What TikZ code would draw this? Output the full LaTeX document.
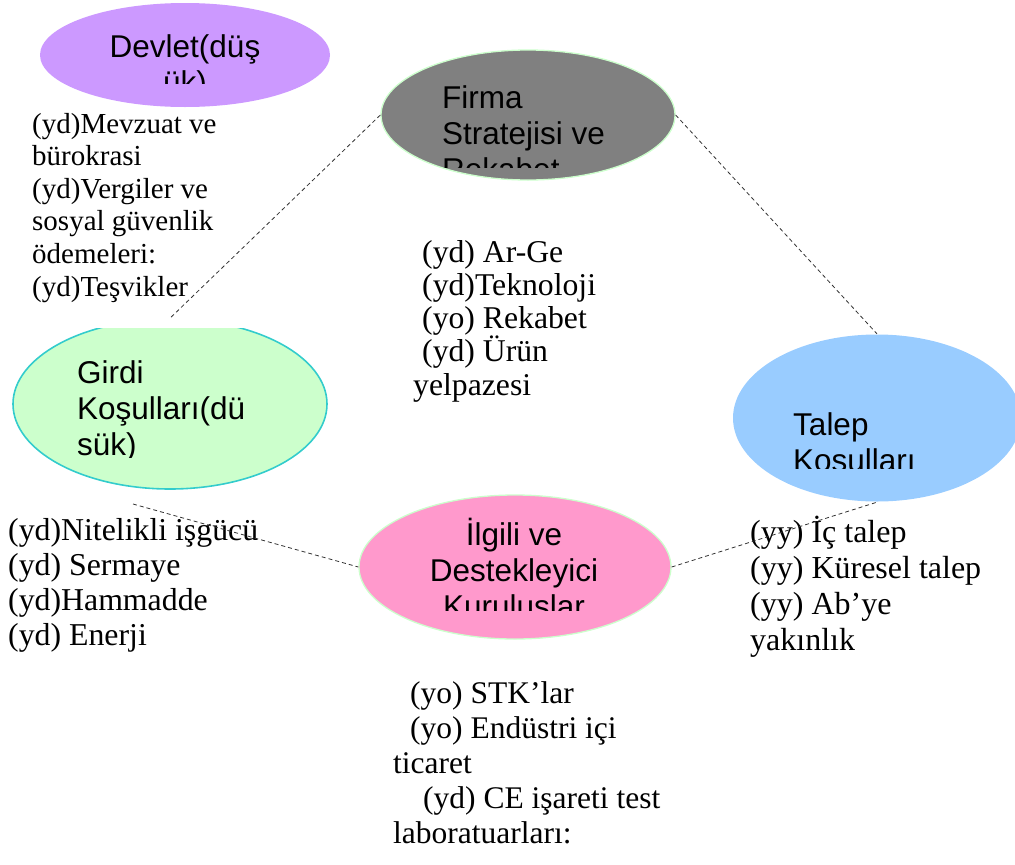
\documentclass[tikz,border=0pt]{standalone}
\usepackage{fontspec}
\setmainfont{Liberation Serif}
\newfontfamily\arialf{Liberation Sans}
\usetikzlibrary{shapes.geometric}
\definecolor{cDev}{HTML}{CC99FF}
\definecolor{cFirma}{HTML}{808080}
\definecolor{cGirdi}{HTML}{CCFFCC}
\definecolor{cTalep}{HTML}{99CCFF}
\definecolor{cIlgili}{HTML}{FF99CC}
\definecolor{cTeal}{HTML}{33CCCC}
\definecolor{cLine}{HTML}{333333}
\begin{document}
\begin{tikzpicture}[x=1pt,y=-1pt,
  bubble/.style={ellipse, inner sep=0pt, line width=1.3pt},
  etext/.style={inner sep=0pt, font=\arialf\fontsize{31.5}{36}\selectfont},
  ltext/.style={inner sep=0pt, anchor=base west, align=left},
  conn/.style={draw=cLine, line width=0.8pt, dash pattern=on 4pt off 3pt}]
\useasboundingbox (0,0) rectangle (1015,865);
% ellipses
\node[bubble, fill=cDev, minimum width=290pt, minimum height=104pt] (devlet) at (185,55) {};
\node[bubble, fill=cFirma, draw=cGirdi, minimum width=294pt, minimum height=130pt] (firma) at (528,115) {};
\begin{scope}
  \clip (0,328) rectangle (1015,865);
  \node[bubble, fill=cGirdi, draw=cTeal, line width=1.6pt, minimum width=314pt, minimum height=170pt] (girdi) at (170,404) {};
\end{scope}
\node[bubble, fill=cTalep, minimum width=288pt, minimum height=167pt] (talep) at (877,418) {};
\node[bubble, fill=cIlgili, draw=cGirdi, minimum width=312pt, minimum height=144pt] (ilgili) at (515,567) {};
% ellipse texts (clipped); base anchor = baseline of the last line
\begin{scope}
  \clip (0,0) rectangle (1015,83);
  \node[etext, anchor=base, align=center] (devlett) at (185,93) {Devlet(düş\\ük)};
\end{scope}
\begin{scope}
  \clip (0,0) rectangle (1015,167);
  \node[etext, anchor=base west, align=left] (firmat) at (442,180) {Firma\\Stratejisi ve\\Rekabet};
\end{scope}
\begin{scope}
  \clip (0,0) rectangle (1015,457);
  \node[etext, anchor=base west, align=left] (girdit) at (77,455) {Girdi\\Koşulları(dü\\sük)};
\end{scope}
\begin{scope}
  \clip (0,0) rectangle (1015,468);
  \node[etext, anchor=base west, align=left] (talept) at (793,471) {Talep\\Koşulları};
\end{scope}
\begin{scope}
  \clip (0,0) rectangle (1015,610);
  \node[etext, anchor=base, align=center] (ilgilit) at (514,617) {İlgili ve\\Destekleyici\\Kuruluşlar};
\end{scope}
% text blocks
\node[ltext, font=\fontsize{29}{32.6}\selectfont] (devletb) at (32,296)
  {(yd)Mevzuat ve\\bürokrasi\\(yd)Vergiler ve\\sosyal güvenlik\\ödemeleri:\\(yd)Teşvikler};
\node[ltext, font=\fontsize{31.7}{33.2}\selectfont] (firmab) at (413,395)
  {\hspace*{9pt}(yd) Ar-Ge\\\hspace*{9pt}(yd)Teknoloji\\\hspace*{9pt}(yo) Rekabet\\\hspace*{9pt}(yd) Ürün\\yelpazesi};
\begin{scope}
  \clip (0,0) rectangle (1015,653);
  \node[ltext, font=\fontsize{31.8}{35}\selectfont] (girdib) at (8,645)
    {(yd)Nitelikli işgücü\\(yd) Sermaye\\(yd)Hammadde\\(yd) Enerji};
\end{scope}
\node[ltext, font=\fontsize{32}{36}\selectfont] (talepb) at (750,650)
  {(yy) İç talep\\(yy) Küresel talep\\(yy) Ab’ye\\yakınlık};
\node[ltext, font=\fontsize{31.5}{35}\selectfont] (ilgilib) at (393,843)
  {\hspace*{17pt}(yo) STK’lar\\\hspace*{17pt}(yo) Endüstri içi\\ticaret\\\hspace*{30pt}(yd) CE işareti test\\laboratuarları:};
% connectors
\coordinate (gi) at (133,504);
\draw[conn] (firma.west) -- (girdi.north);
\draw[conn] (firma.east) -- (talep.north);
\draw[conn] (gi) -- (ilgili.west);
\draw[conn] (ilgili.east) -- (talep.south);
\end{tikzpicture}
\end{document}
